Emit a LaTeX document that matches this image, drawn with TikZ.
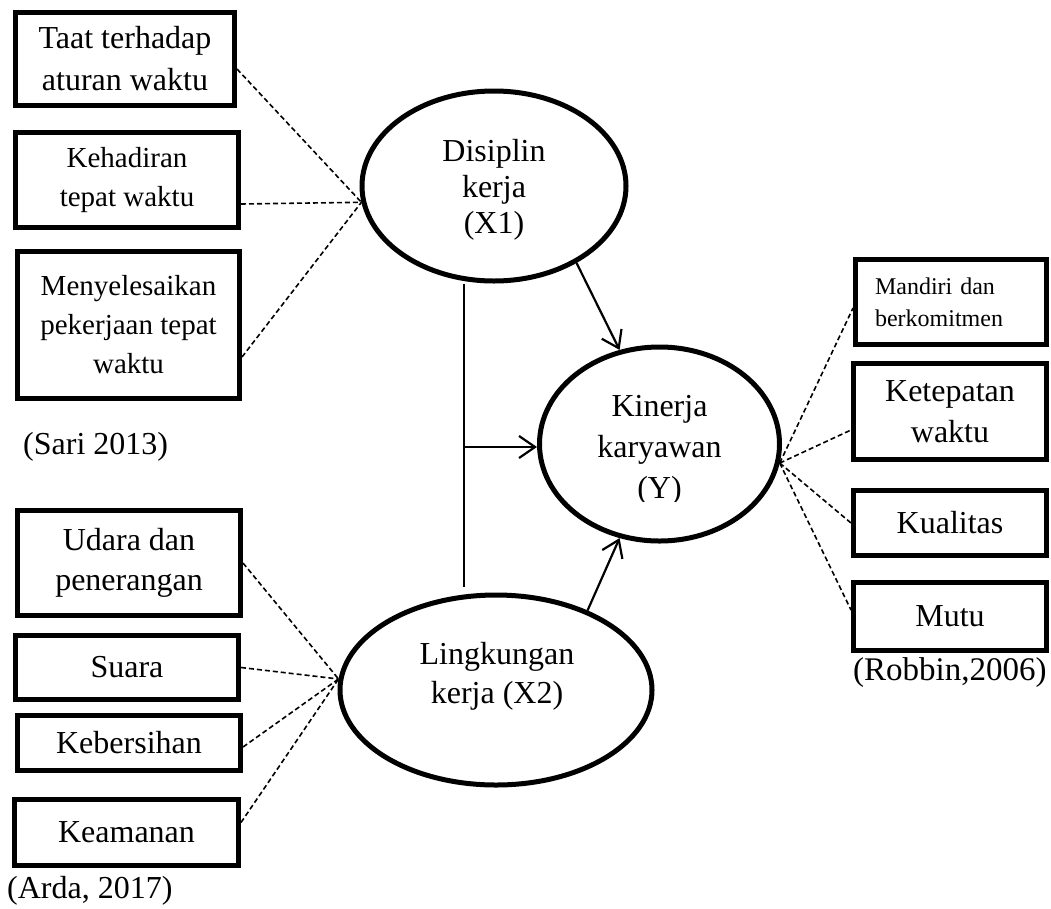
\documentclass[tikz,border=0pt]{standalone}
\usepackage{fontspec}
\setmainfont{Liberation Serif}
\usetikzlibrary{shapes.geometric,arrows.meta,calc}
\newcommand\fsz[2]{\fontsize{#1pt}{#2pt}\selectfont}
\begin{document}
\begin{tikzpicture}[x=1pt,y=-1pt,
  box/.style={draw, line width=5pt, rectangle, inner sep=0pt, align=center},
  ell/.style={draw, line width=5pt, ellipse, inner sep=0pt},
  dline/.style={dash pattern=on 5pt off 3pt, line width=1.6pt},
  conn/.style={line width=2.2pt},
  arr/.style={conn, -{Straight Barb[length=16pt,width=22pt,line width=2.2pt]}},
  lbl/.style={anchor=base west, inner sep=0pt}
]
\useasboundingbox (0,0) rectangle (1051,908);

% left top boxes
\node[box, minimum width=219pt, minimum height=93pt, font=\fsz{32}{42}] (t1) at (125,59) {Taat terhadap\\aturan waktu};
\node[box, minimum width=223pt, minimum height=95pt, font=\fsz{29}{39}] (t2) at (127,180) {Kehadiran\\tepat waktu};
\node[box, minimum width=222pt, minimum height=147pt, font=\fsz{29}{39}] (t3) at (128.5,325) {Menyelesaikan\\pekerjaan tepat\\waktu};

% left bottom boxes
\node[box, minimum width=223pt, minimum height=105pt, font=\fsz{32}{40}] (b1) at (129,563) {Udara dan\\penerangan};
\node[box, minimum width=223pt, minimum height=64pt, font=\fsz{32}{40}] (b2) at (127,667.5) {Suara};
\node[box, minimum width=223pt, minimum height=55pt, font=\fsz{32}{40}] (b3) at (129,743) {Kebersihan};
\node[box, minimum width=224pt, minimum height=66pt, font=\fsz{32}{40}] (b4) at (126.5,832.5) {Keamanan};

% right boxes
\node[box, minimum width=191pt, minimum height=85pt, font=\fsz{24}{32}, text width=152pt, align=left] (r1) at (951,302) {Mandiri dan\\berkomitmen};
\node[box, minimum width=193pt, minimum height=96pt, font=\fsz{32}{41}] (r2) at (950,411.5) {Ketepatan\\waktu};
\node[box, minimum width=193pt, minimum height=65pt, font=\fsz{32}{40}] (r3) at (950,523) {Kualitas};
\node[box, minimum width=193pt, minimum height=68pt, font=\fsz{32}{40}] (r4) at (950,616) {Mutu};

% ellipses
\node[ell, minimum width=264pt, minimum height=190pt] (X1) at (494,186) {};
\node[ell, minimum width=240pt, minimum height=194pt] (Y) at (659.5,444) {};
\node[ell, minimum width=312pt, minimum height=190pt] (X2) at (496,690) {};

\node[font=\fsz{32}{36}, align=center] (x1t) at (494,189.5) {Disiplin\\kerja\\(X1)};
\begin{scope}
  \clip (530,330) rectangle (800,501);
  \node[font=\fsz{32}{41}, align=center] (yt) at (659.5,450) {Kinerja\\karyawan\\(Y)};
\end{scope}
\node[font=\fsz{32}{39}, align=center] (x2t) at (497,676) {Lingkungan\\kerja (X2)};

% sources
\node[lbl, font=\fsz{32}{38}] (s1) at (23,454) {(Sari 2013)};
\node[lbl, font=\fsz{32}{38}] (s2) at (7,898) {(Arda, 2017)};
\node[lbl, font=\fsz{33}{38}] (s3) at (853,680) {(Robbin,2006)};

% dashed indicator links
\draw[dline] ([yshift=-10pt]t1.east) -- (X1.187);
\draw[dline] ([yshift=-24pt]t2.east) -- (X1.187);
\draw[dline] ([yshift=-32pt]t3.east) -- (X1.187);

\draw[dline] (b1.east) -- (X2.176);
\draw[dline] (b2.east) -- (X2.176);
\draw[dline] ([yshift=-4pt]b3.east) -- (X2.176);
\draw[dline] ([yshift=10pt]b4.east) -- (X2.176);

\draw[dline] (Y.-9) -- ([yshift=-6pt]r1.west);
\draw[dline] (Y.-9) -- ([yshift=-18.5pt]r2.west);
\draw[dline] (Y.-9) -- (r3.west);
\draw[dline] (Y.-9) -- ([yshift=6pt]r4.west);

% solid structure
\coordinate (vm) at (464,447);
\coordinate (vb) at (464,587);
\draw[conn] (X1.south -| vm) -- (vb);
\draw[arr] (vm) -- (vm -| Y.west);
\draw[arr] (X1.-43) -- (Y.113);
\draw[arr] (X2.41) -- (Y.247);
\end{tikzpicture}
\end{document}
